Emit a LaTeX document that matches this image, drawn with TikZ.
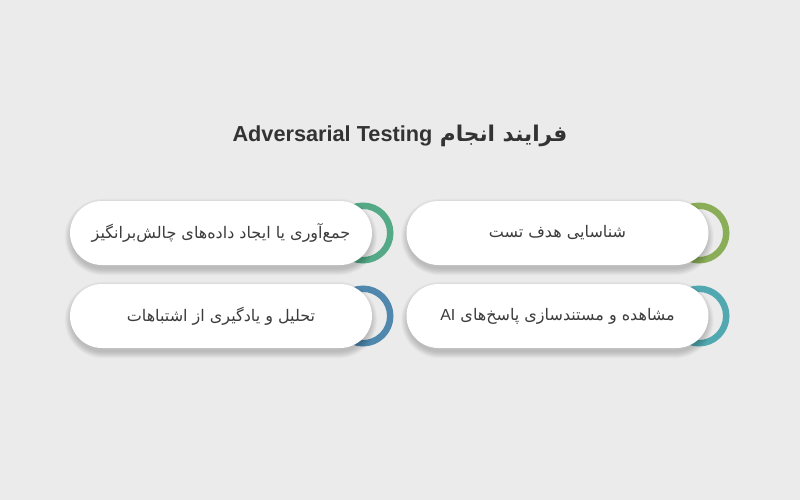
\documentclass[tikz,border=0pt]{standalone}
\usepackage{fontspec}
\setmainfont{DejaVu Sans}
\newfontfamily\arfont[Script=Arabic]{DejaVu Sans}
\newfontfamily\latfont{Liberation Sans}
\TeXXeTstate=1
\definecolor{bgc}{HTML}{EBEBEB}
\definecolor{ca}{HTML}{8AAE58}
\definecolor{cb}{HTML}{54A987}
\definecolor{cc}{HTML}{52A8B0}
\definecolor{cd}{HTML}{5088AD}
\definecolor{txt}{HTML}{3C3C3C}
\definecolor{ttl}{HTML}{333333}
\tikzset{
  pill/.style={fill=white, rounded corners=32pt, minimum width=302pt, minimum height=64pt,
    inner sep=0pt, text=txt, font=\arfont\fontsize{16}{18}\selectfont},
  ringnode/.style={circle, draw=#1, line width=6.5pt, minimum size=54.5pt, inner sep=0pt},
  titlenode/.style={text=ttl, inner sep=0pt},
  shadowlayer/.style={fill=black, fill opacity=0.018, draw=none}
}
\newcommand{\pillshadow}[2]{%
  \foreach \i in {0,1,...,9}{%
    \fill[shadowlayer, rounded corners={32pt+\i*0.7pt}]
      ({#1-151-0.7*\i+1},{#2-32+4-0.7*\i}) rectangle ({#1+151+0.7*\i-1},{#2+32+4+0.7*\i});
  }%
}
\begin{document}
\begin{tikzpicture}[x=1pt,y=-1pt]
\fill[bgc] (0,0) rectangle (800,500);
\useasboundingbox (0,0) rectangle (800,500);

\node[titlenode] (title) at (400,136) {\arfont\fontsize{21.7}{26}\selectfont\bfseries\beginR فرایند انجام {\latfont\beginL Adversarial Testing\endL}\endR};

\node[ringnode=ca] (r1) at (699,233) {};
\node[ringnode=cb] (r2) at (363,233) {};
\node[ringnode=cc] (r3) at (699,316) {};
\node[ringnode=cd] (r4) at (363,316) {};

\pillshadow{557.5}{233}
\pillshadow{221}{233}
\pillshadow{557.5}{316}
\pillshadow{221}{316}

\node[pill] (s1) at (557.5,233) {\beginR شناسایی هدف تست\endR};
\node[pill] (s2) at (221,233) {\beginR جمع‌آوری یا ایجاد داده‌های چالش‌برانگیز\endR};
\node[pill] (s3) at (557.5,316) {\beginR مشاهده و مستندسازی پاسخ‌های {\latfont\beginL AI\endL}\endR};
\node[pill] (s4) at (221,316) {\beginR تحلیل و یادگیری از اشتباهات\endR};
\end{tikzpicture}
\end{document}
